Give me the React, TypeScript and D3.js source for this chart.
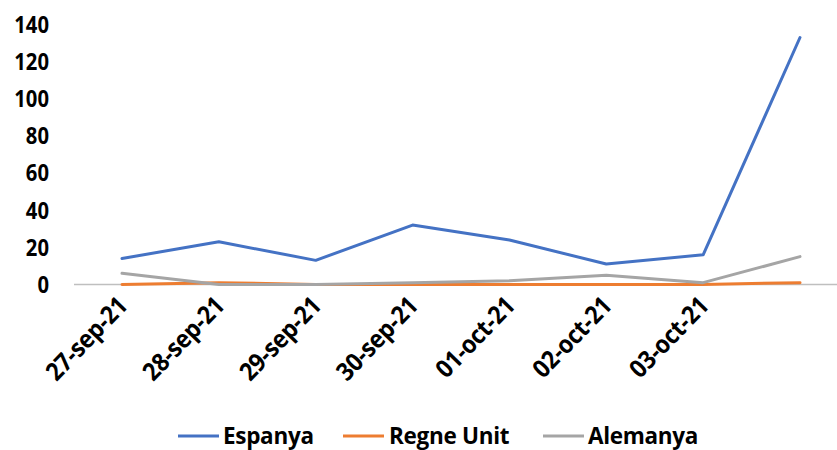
import React from "react";
import * as d3 from "d3";

const categories = ["27-sep-21", "28-sep-21", "29-sep-21", "30-sep-21", "01-oct-21", "02-oct-21", "03-oct-21", "04-oct-21"];
const categoryLabels = ["27-sep-21", "28-sep-21", "29-sep-21", "30-sep-21", "01-oct-21", "02-oct-21", "03-oct-21", ""];
const espanya = [14, 23, 13, 32, 24, 11, 16, 133];
const regneUnit = [0, 1, 0, 0, 0, 0, 0, 1];
const alemanya = [6, 0, 0, 1, 2, 5, 1, 15];
const yTicks = [0, 20, 40, 60, 80, 100, 120, 140];

const series = [
  { name: "Espanya", values: espanya, color: "#4472C4" },
  { name: "Regne Unit", values: regneUnit, color: "#ED7D31" },
  { name: "Alemanya", values: alemanya, color: "#A5A5A5" },
];

const W = 837;
const H = 450;
const FONT = "'Open Sans', 'Noto Sans', sans-serif";

export default function App() {
  const x = d3.scalePoint<string>().domain(categories).range([122, 800]);
  const y = d3.scaleLinear().domain([0, 140]).range([284.5, 24.5]);
  const line = d3
    .line<number>()
    .x((_, i) => x(categories[i]) as number)
    .y((d) => y(d));

  const legendItems = [
    { lx: 178, tx: 223 },
    { lx: 343, tx: 389 },
    { lx: 543, tx: 588 },
  ];

  return (
    <div style={{ position: "absolute", left: 0, top: 0 }}>
      <svg width={W} height={H} style={{ display: "block", background: "#fff" }}>
        <line x1={74} x2={837} y1={y(0)} y2={y(0)} stroke="#BFBFBF" strokeWidth={1.5} />
        {yTicks.map((t) => (
          <g key={t} transform={`translate(49,${y(t)}) scale(0.88,1)`}>
            <text
              dy="0.36em"
              textAnchor="end"
              fontFamily={FONT}
              fontWeight={700}
              fontSize={23}
              fill="#000"
            >
              {t}
            </text>
          </g>
        ))}
        {categories.map((c, i) =>
          categoryLabels[i] ? (
            <text
              key={c}
              transform={`translate(${(x(c) as number) + 7},${307}) rotate(-46) scale(0.92,1)`}
              textAnchor="end"
              fontFamily={FONT}
              fontWeight={700}
              fontSize={25}
              letterSpacing={-0.3}
              fill="#000"
            >
              {categoryLabels[i]}
            </text>
          ) : null
        )}
        {series.map((s) => (
          <path
            key={s.name}
            d={line(s.values) || ""}
            fill="none"
            stroke={s.color}
            strokeWidth={3}
            strokeLinejoin="round"
            strokeLinecap="round"
          />
        ))}
        {series.map((s, i) => (
          <g key={s.name}>
            <line
              x1={legendItems[i].lx}
              x2={legendItems[i].lx + 41}
              y1={436}
              y2={436}
              stroke={s.color}
              strokeWidth={3}
            />
            <text
              x={legendItems[i].tx}
              y={436}
              dy="0.36em"
              fontFamily={FONT}
              fontWeight={700}
              fontSize={22.5}
              letterSpacing={-0.3}
              fill="#000"
            >
              {s.name}
            </text>
          </g>
        ))}
      </svg>
    </div>
  );
}
